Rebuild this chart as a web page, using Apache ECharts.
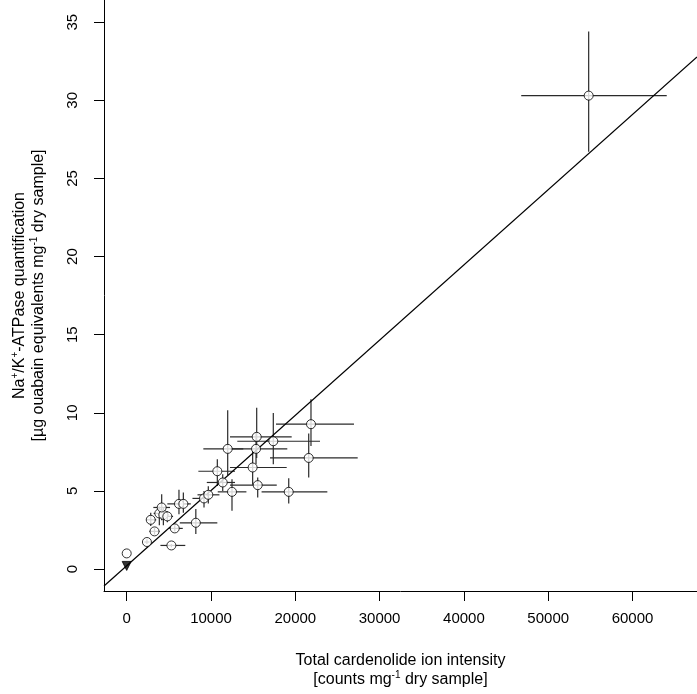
<!DOCTYPE html>
<html><head><meta charset="utf-8">
<script src="https://cdn.jsdelivr.net/npm/echarts@6/dist/echarts.min.js"></script>
<style>html,body{margin:0;padding:0;background:#fff}#c{width:697px;height:694px}</style>
</head><body><div id="c"></div>
<script>
// Samples: total cardenolide ion intensity (x) vs Na+/K+-ATPase quantification (y)
const ptX  = [0,    2400, 3300, 5300, 5700, 8200, 2850, 3870, 4350, 4820, 4150, 6200, 6720, 9170, 9680, 11390, 10750, 11980, 12490, 21860, 15420, 17390, 15340, 21590, 14940, 15540, 19220, 54800];
const ptY  = [1.0,  1.73, 2.41, 1.51, 2.60, 2.96, 3.15, 3.56, 3.47, 3.37, 3.94, 4.17, 4.17, 4.52, 4.75, 5.54,  6.26,  7.69,  4.94,  9.27,  8.46,  8.18,  7.69,  7.11,  6.50,  5.37,  4.94,  30.3];
const xLo  = [null, 2100, 2700, 4000, 5050, 6300, 2300, 3200, 3700, 4300, 3160, 4820, 6000, 7800, 8400, 9500,  8500,  9090,  10800, 17710, 12250, 13120, 12250, 17000, 12250, 12250, 16000, 46800];
const xHi  = [null, 2700, 3900, 6950, 6650, 10750,3500, 4600, 5000, 5500, 5140, 7310, 7600, 9900, 11000,12850, 12850, 13830, 14200, 26960, 19570, 22930, 19050, 27400, 18980, 17800, 23800, 64060];
const yLo  = [null, 1.60, 2.20, 1.40, 2.40, 2.24, 2.75, 2.80, 2.80, 3.00, 3.13, 3.51, 3.60, 3.94, 4.20, 5.00,  5.32,  6.00,  3.73,  7.88,  7.10,  6.71,  6.70,  5.86,  5.40,  4.58,  4.20,  26.7];
const yHi  = [null, 1.90, 2.65, 1.60, 2.80, 3.85, 3.60, 4.00, 3.90, 3.70, 4.79, 5.07, 4.90, 5.00, 5.30, 6.07,  7.03,  10.16, 5.75,  10.86, 10.33, 9.99,  8.70,  8.67,  7.60,  5.86,  5.81,  34.4];
// Sample below detection (filled triangle)
const triX = [0];
const triY = [0.2];
// Regression line y = a + b*x
const fitIntercept = 0.21;
const fitSlope = 0.0004814;
// Axis ticks
const xTicks = [0, 10000, 20000, 30000, 40000, 50000, 60000];
const yTicks = [0, 5, 10, 15, 20, 25, 30, 35];
const xMin = -2693, xMax = 67650, yMin = -1.406, yMax = 36.42;

const barData = [];
for (let i = 0; i < ptX.length; i++) {
  if (xLo[i] !== null) barData.push([ptX[i], ptY[i], xLo[i], xHi[i], yLo[i], yHi[i]]);
}
const ptData = ptX.map((x, i) => [x, ptY[i]]);
const triData = triX.map((x, i) => [x, triY[i]]);
const fitData = [[xMin, fitIntercept + fitSlope * xMin], [xMax, fitIntercept + fitSlope * xMax]];

const FONT = 'Liberation Sans, Arial, sans-serif';
const chart = echarts.init(document.getElementById('c'), null, {renderer: 'canvas'});
chart.setOption({
  animation: false,
  backgroundColor: '#fff',
  grid: {left: 104, right: 0, top: 0, bottom: 102, containLabel: false},
  xAxis: {
    type: 'value', min: xMin, max: xMax,
    splitLine: {show: false},
    axisLine: {show: true, onZero: false, lineStyle: {color: '#000', width: 1}},
    axisTick: {show: true, inside: false, length: 10, customValues: xTicks, lineStyle: {color: '#000'}},
    axisLabel: {customValues: xTicks, margin: 20, fontSize: 15, color: '#000', fontFamily: FONT,
      formatter: v => String(v)},
    name: '{n|Total cardenolide ion intensity}\n{n|[counts mg}{s|-1}{n| dry sample]}',
    nameLocation: 'middle', nameGap: 60,
    nameTextStyle: {fontFamily: FONT, color: '#000', fontSize: 16, lineHeight: 19,
      rich: {n: {fontSize: 16, lineHeight: 19, fontFamily: FONT, color: '#000'},
             s: {fontSize: 10, lineHeight: 12, verticalAlign: 'top', fontFamily: FONT, color: '#000'}}}
  },
  yAxis: {
    type: 'value', min: yMin, max: yMax,
    splitLine: {show: false},
    axisLine: {show: true, onZero: false, lineStyle: {color: '#000', width: 1}},
    axisTick: {show: true, inside: false, length: 10, customValues: yTicks, lineStyle: {color: '#000'}},
    axisLabel: {customValues: yTicks, margin: 24, rotate: 90, fontSize: 15, color: '#000', fontFamily: FONT},
    name: '{n|Na}{s|+}{n|/K}{s|+}{n|-ATPase quantification}\n{n|[µg ouabain equivalents mg}{s|-1}{n| dry sample]}',
    nameLocation: 'middle', nameGap: 56,
    nameTextStyle: {fontFamily: FONT, color: '#000', fontSize: 16, lineHeight: 19,
      rich: {n: {fontSize: 16, lineHeight: 19, fontFamily: FONT, color: '#000'},
             s: {fontSize: 10, lineHeight: 12, verticalAlign: 'top', fontFamily: FONT, color: '#000'}}}
  },
  series: [
    {
      type: 'custom', clip: true, z: 1,
      data: barData,
      encode: {x: [0, 2, 3], y: [1, 4, 5]},
      renderItem: function (params, api) {
        const c = api.coord([api.value(0), api.value(1)]);
        const l = api.coord([api.value(2), api.value(1)]);
        const r = api.coord([api.value(3), api.value(1)]);
        const b = api.coord([api.value(0), api.value(4)]);
        const t = api.coord([api.value(0), api.value(5)]);
        const st = {stroke: '#2a2a2a', lineWidth: 1.2};
        return {type: 'group', children: [
          {type: 'line', shape: {x1: l[0], y1: l[1], x2: r[0], y2: r[1]}, style: st},
          {type: 'line', shape: {x1: b[0], y1: b[1], x2: t[0], y2: t[1]}, style: st}
        ]};
      }
    },
    {
      type: 'line', data: fitData, showSymbol: false, symbol: 'none', z: 2,
      lineStyle: {color: '#000', width: 1.2}, silent: true
    },
    {
      type: 'scatter', data: ptData, symbol: 'circle', symbolSize: 9, z: 3,
      itemStyle: {color: '#fff', borderColor: '#000', borderWidth: 1}
    },
    {
      type: 'scatter', data: triData, symbol: 'triangle', symbolRotate: 180, symbolSize: 9, z: 3,
      itemStyle: {color: '#000', borderColor: '#000', borderWidth: 1}
    }
  ]
});
</script>
</body></html>
